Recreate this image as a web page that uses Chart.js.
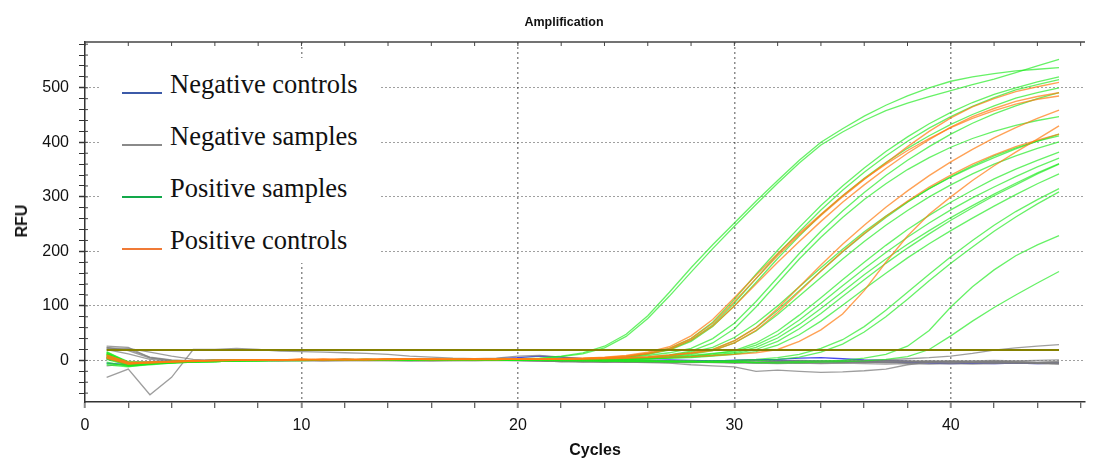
<!DOCTYPE html>
<html>
<head>
<meta charset="utf-8">
<script src="https://cdn.jsdelivr.net/npm/chart.js@4"></script>
<style>
html, body { margin: 0; padding: 0; background: #fff; }
#wrap { position: relative; width: 1097px; height: 459px; }
canvas { display: block; }
.txt { position: absolute; font-family: "Liberation Sans", Arial, sans-serif; font-weight: bold; color: #111; white-space: nowrap; }
#legend { position: absolute; left: 100px; top: 58px; width: 281px; height: 205px; background: #fff; }
.leg { position: absolute; left: 22px; font-family: "Liberation Serif", "Times New Roman", serif; font-size: 26.5px; line-height: 26px; color: #111; white-space: nowrap; }
.sw { display: inline-block; width: 40px; height: 2px; margin-right: 8px; vertical-align: baseline; position: relative; top: 1px; }
</style>
</head>
<body>
<div id="wrap">
  <canvas id="amp" width="1097" height="459"></canvas>
  <div class="txt" style="font-size:12.5px;line-height:14px;left:564px;top:15px;transform:translateX(-50%);">Amplification</div>
  <div class="txt" style="font-size:16px;line-height:16px;left:595px;top:442px;transform:translateX(-50%);">Cycles</div>
  <div class="txt" style="font-size:16px;line-height:16px;left:22px;top:221px;transform:translate(-50%,-50%) rotate(-90deg);">RFU</div>
  <div id="legend"></div>
</div>
<script>
//? DATA
const cycles = [1,2,3,4,5,6,7,8,9,10,11,12,13,14,15,16,17,18,19,20,21,22,23,24,25,26,27,28,29,30,31,32,33,34,35,36,37,38,39,40,41,42,43,44,45];

// axis ticks (labels shown on the majors only)
const yTickValues = [-60,-40,-20,0,20,40,60,80,100,120,140,160,180,200,220,240,260,280,300,320,340,360,380,400,420,440,460,480,500,520,540,560,580];
const yLabelValues = [0,100,200,300,400,500];
const xTickValues = [0,2,4,6,8,10,12,14,16,18,20,22,24,26,28,30,32,34,36,38,40,42,44,46];
const xLabelValues = [0,10,20,30,40];

const thresholdValue = 19;
const thresholdCycles = [1, 45];

// positive controls (orange)
const posControls = [
    [6,-5,-4,-2,-1,0,1,0,1,2,1,2,1,2,3,2,2,3,2,3,2,3,4,5,8,13,22,40,68,108,150,192,230,266,300,332,362,392,420,445,465,480,493,502,510],
    [9,-3,-5,-3,-1,-1,0,1,0,1,2,1,1,3,2,1,2,2,3,2,2,2,3,5,7,12,20,37,63,100,140,180,218,255,290,322,352,380,405,428,447,462,475,484,491],
    [4,-7,-4,-2,-2,0,0,1,1,1,2,2,1,2,3,2,1,2,2,3,2,3,4,6,9,15,25,45,75,115,156,196,233,268,302,333,360,385,407,427,444,458,470,479,485],
    [10,-4,-3,-2,0,0,1,1,0,2,1,2,2,1,2,3,2,2,1,3,2,3,3,4,5,7,10,14,20,36,60,95,135,175,213,248,281,311,339,364,387,408,427,444,459],
    [7,-6,-4,-3,-1,0,0,1,1,1,2,1,2,2,3,2,2,3,2,2,2,2,3,4,5,6,9,13,18,32,55,88,126,164,200,233,264,292,318,340,360,377,392,404,415],
    [5,-5,-3,-2,-1,0,0,1,1,2,1,1,2,2,2,3,2,1,2,2,2,2,3,3,4,5,6,7,9,11,14,20,35,56,85,128,180,228,268,300,330,357,382,406,430]
];

// positive samples (green)
const posSamples = [
    [14,-6,-5,-3,-2,-1,0,-1,0,1,0,1,2,1,0,1,2,1,2,3,4,8,14,26,48,82,125,170,212,252,292,330,367,400,425,448,468,485,500,512,520,526,531,534,537],
    [10,-8,-6,-4,-2,-2,-1,0,-1,0,1,0,1,2,1,1,0,2,1,2,3,7,12,23,44,77,118,162,205,246,286,325,362,395,419,440,458,472,484,495,506,516,528,540,552],
    [6,-10,-7,-5,-3,-2,-1,0,0,-1,1,0,1,1,2,0,1,1,2,1,1,2,3,4,7,13,22,40,70,112,158,202,244,284,320,353,383,410,434,455,473,488,500,511,520],
    [16,-4,-5,-3,-1,-1,0,1,0,0,1,2,1,0,1,2,1,2,1,2,1,2,3,3,6,12,20,37,65,105,150,195,236,276,312,345,375,402,426,447,466,482,496,506,515],
    [-8,-12,-7,-4,-3,-2,-1,-1,0,1,0,1,0,2,1,1,2,1,1,2,1,1,2,3,6,11,19,35,62,100,143,187,228,267,302,334,363,389,412,433,451,467,481,491,500],
    [12,-5,-6,-3,-2,-1,0,-1,1,0,0,1,1,1,2,1,0,1,2,2,1,2,2,3,5,9,14,22,40,68,108,152,196,237,274,308,339,367,392,415,435,452,467,480,491],
    [4,-7,-5,-4,-2,-1,0,0,1,0,1,1,0,1,2,1,1,2,1,0,0,1,1,2,3,6,10,17,32,58,98,142,186,226,262,295,324,350,372,391,407,420,431,440,447],
    [9,-9,-6,-4,-2,-2,-1,0,0,1,1,0,1,0,1,2,1,1,2,1,0,1,1,2,3,5,9,15,24,42,68,100,135,170,204,236,265,291,315,336,355,372,388,402,415],
    [13,-3,-4,-2,-1,0,0,1,0,1,0,2,1,1,0,1,2,1,1,2,1,1,2,2,3,5,8,13,20,36,60,92,128,164,199,232,262,290,315,337,357,375,390,402,412],
    [-3,-11,-8,-5,-3,-2,-1,-1,0,0,1,1,0,1,1,2,1,0,1,2,1,1,1,2,3,4,7,11,18,32,54,84,118,152,186,218,248,275,300,322,342,360,375,389,401],
    [7,-6,-6,-3,-2,-1,0,0,1,1,0,1,1,2,1,0,1,1,2,1,0,1,1,2,2,3,5,8,12,18,32,54,83,115,148,180,211,240,266,290,312,333,351,367,382],
    [11,-5,-5,-3,-1,-1,0,1,0,0,1,1,2,1,1,0,1,2,1,1,1,1,2,2,3,4,6,9,13,16,28,47,74,105,137,168,198,226,252,276,298,318,337,355,371],
    [2,-9,-7,-4,-3,-2,-1,0,0,1,0,1,1,1,2,1,0,1,1,2,0,1,1,2,2,3,5,7,10,14,24,41,66,95,126,157,186,213,238,262,284,305,325,344,361],
    [15,-2,-3,-2,-1,0,0,1,1,0,1,2,1,0,1,1,2,1,2,1,1,1,1,2,3,3,4,6,9,12,20,35,58,86,117,148,178,206,232,257,280,302,322,342,360],
    [-6,-10,-6,-4,-2,-1,-1,0,1,0,1,0,1,2,1,1,1,0,2,1,0,1,1,1,2,3,4,5,8,11,16,28,47,72,101,131,160,188,214,238,261,283,304,324,342],
    [5,-8,-5,-3,-2,-1,0,0,0,1,1,1,0,1,2,1,1,2,1,1,0,0,-1,-1,-2,-2,-1,-2,-1,0,2,5,11,22,38,62,92,125,158,190,220,248,273,295,315],
    [12,-4,-4,-2,-1,0,0,0,1,1,0,1,2,1,1,1,0,1,2,1,0,-1,-1,-2,-1,-2,-3,-2,-3,-2,-1,2,6,15,30,52,80,112,146,178,208,237,263,287,309],
    [3,-7,-5,-3,-2,-1,-1,0,0,1,0,1,1,0,1,1,2,1,0,1,0,0,1,0,-1,-1,-2,-2,-2,-3,-4,-3,-2,-1,0,4,11,26,55,98,135,166,192,212,229],
    [8,-6,-4,-3,-1,-1,0,0,1,0,1,1,2,1,0,1,1,1,2,1,0,1,0,0,-1,-1,-2,-2,-3,-3,-4,-5,-4,-3,-2,-1,2,7,20,45,72,97,120,142,163]
];

// negative samples (gray)
const negSamples = [
    [-31,-16,-63,-31,20,20,22,20,17,16,15,14,13,11,8,6,4,3,4,8,9,6,3,1,0,-1,-2,-2,-3,-3,-4,-3,-3,-2,-2,-3,-2,-2,-3,-2,-3,-2,-3,-4,-3],
    [26,24,5,0,-2,-1,0,1,0,-1,0,1,0,-1,0,1,0,-1,0,-1,-1,-2,-3,-2,-3,-4,-5,-8,-10,-12,-20,-18,-20,-22,-21,-19,-16,-8,-3,-2,-3,-2,-3,-4,-4],
    [22,20,6,1,-1,0,1,0,-1,0,1,0,1,0,-1,0,1,0,1,0,1,0,-1,-1,-2,-2,-1,-2,-3,-2,-3,-2,-1,-2,-1,0,1,3,5,8,13,19,23,26,29],
    [24,18,4,-1,-2,-1,0,-1,0,1,0,-1,0,1,0,-1,0,1,0,1,0,-1,-2,-3,-2,-3,-4,-3,-4,-5,-4,-5,-4,-5,-4,-3,-4,-5,-4,-5,-4,-3,-4,-5,-6],
    [-10,-6,-3,-2,-1,0,1,0,-1,0,1,0,-1,0,1,0,-1,0,1,0,-1,-2,-2,-3,-2,-3,-3,-2,-3,-4,-3,-2,-3,-2,-1,-2,-1,-2,-1,-2,-1,0,-1,0,1],
    [20,12,2,-2,-1,0,-1,0,1,0,-1,0,0,1,0,-1,0,1,0,0,-1,-1,-2,-1,-2,-3,-2,-3,-2,-3,-4,-3,-4,-3,-2,-3,-4,-3,-2,-3,-4,-5,-4,-5,-6],
    [5,-4,-6,-3,-2,-1,0,1,0,1,0,0,1,0,1,0,0,1,0,1,0,-1,0,-1,-2,-1,-2,-1,-2,-1,0,-1,0,-1,-2,-1,0,-1,-2,-1,-2,-3,-2,-3,-2],
    [23,22,15,8,2,0,-1,0,1,0,-1,0,1,0,-1,0,0,1,0,0,-1,-2,-1,-2,-3,-2,-3,-4,-3,-4,-5,-6,-5,-6,-5,-6,-7,-6,-7,-6,-7,-6,-5,-6,-7]
];

// negative controls (blue)
const negControls = [
    [3,-4,-3,-2,-1,0,1,0,1,0,1,2,1,0,1,2,1,2,3,5,8,6,3,2,1,0,1,0,-1,0,1,2,4,5,3,1,0,-2,-4,-5,-4,-3,-5,-5,-4],
    [-5,-8,-4,-2,-1,0,0,1,0,1,0,1,1,2,1,0,1,2,1,2,3,2,1,0,-1,-2,-1,-2,-1,0,1,0,-1,-2,-3,-2,-3,-4,-5,-6,-5,-6,-5,-6,-5]
];

const legendNames = ['Negative controls', 'Negative samples', 'Positive samples', 'Positive controls'];
const legendColors = ['#3c5aa8', '#8a8a8a', '#12a84a', '#f07a36'];

//? BUILD
const legendBox = document.getElementById('legend');
legendNames.forEach((name, i) => {
    const row = document.createElement('div');
    row.className = 'leg';
    row.style.top = (13 + i * 52) + 'px';
    const sw = document.createElement('span');
    sw.className = 'sw';
    sw.style.backgroundColor = legendColors[i];
    row.appendChild(sw);
    row.appendChild(document.createTextNode(name));
    legendBox.appendChild(row);
});

const toPoints = vals => cycles.map((c, i) => ({ x: c, y: vals[i] }));
const lineSet = (vals, color, width) => ({
    data: toPoints(vals),
    borderColor: color,
    borderWidth: width,
    pointRadius: 0,
    tension: 0,
    fill: false
});

const datasets = [];
datasets.push({
    data: thresholdCycles.map(c => ({ x: c, y: thresholdValue })),
    borderColor: '#858000', borderWidth: 2, pointRadius: 0, fill: false
});
posControls.forEach(v => datasets.push(lineSet(v, 'rgba(255,125,20,0.72)', 1.4)));
posSamples.forEach(v => datasets.push(lineSet(v, 'rgba(30,235,30,0.68)', 1.3)));
negSamples.forEach(v => datasets.push(lineSet(v, 'rgba(125,125,125,0.75)', 1.3)));
negControls.forEach(v => datasets.push(lineSet(v, 'rgba(40,40,235,0.85)', 1.3)));

const tickFont = { family: "'Liberation Sans', Arial, sans-serif", size: 16 };
const xMajor = v => xLabelValues.includes(v);
const yMajor = v => yLabelValues.includes(v);

// top frame line + inward tick marks
const framePlugin = {
    id: 'frame',
    afterDraw(chart) {
        const { ctx, chartArea, scales } = chart;
        ctx.save();
        ctx.strokeStyle = '#444';
        ctx.lineWidth = 1.5;
        ctx.beginPath();
        ctx.moveTo(chartArea.left, chartArea.top);
        ctx.lineTo(chartArea.right, chartArea.top);
        ctx.stroke();
        ctx.lineWidth = 1;
        scales.x.ticks.forEach(t => {
            const px = scales.x.getPixelForValue(t.value);
            ctx.beginPath();
            ctx.moveTo(px, chartArea.top);
            ctx.lineTo(px, chartArea.top + 4);
            ctx.stroke();
        });
        scales.y.ticks.forEach(t => {
            const py = scales.y.getPixelForValue(t.value);
            ctx.beginPath();
            ctx.moveTo(chartArea.left, py);
            ctx.lineTo(chartArea.left + 3, py);
            ctx.stroke();
        });
        ctx.restore();
    }
};

new Chart(document.getElementById('amp'), {
    type: 'line',
    data: { datasets },
    options: {
        responsive: false,
        animation: false,
        layout: { padding: { top: 42, right: 12, left: 0, bottom: 0 } },
        plugins: { legend: { display: false }, tooltip: { enabled: false } },
        scales: {
            x: {
                type: 'linear', min: 0, max: 46.2,
                afterBuildTicks: s => { s.ticks = xTickValues.map(v => ({ value: v })); },
                afterFit: s => { s.height = 57; },
                ticks: {
                    autoSkip: false, maxRotation: 0,
                    padding: 8, color: '#111', font: tickFont,
                    callback: v => (xMajor(v) ? String(v) : '')
                },
                grid: {
                    color: c => (c.tick && xMajor(c.tick.value) && c.tick.value > 0) ? 'rgba(120,120,120,0.85)' : 'rgba(0,0,0,0)',
                    lineWidth: 1.5,
                    tickLength: 6,
                    tickColor: c => (c.tick && xMajor(c.tick.value)) ? '#888' : '#333',
                    tickWidth: c => (c.tick && xMajor(c.tick.value)) ? 2 : 1
                },
                border: { display: true, color: '#333', width: 1.5, dash: [2, 3] }
            },
            y: {
                min: -76.3, max: 584,
                afterBuildTicks: s => { s.ticks = yTickValues.map(v => ({ value: v })); },
                afterFit: s => { s.width = 85; },
                ticks: {
                    autoSkip: false,
                    padding: 10, color: '#111', font: tickFont,
                    callback: v => (yMajor(v) ? String(v) : '')
                },
                grid: {
                    color: c => (c.tick && yMajor(c.tick.value)) ? 'rgba(0,0,0,0.75)' : 'rgba(0,0,0,0)',
                    lineWidth: 1,
                    tickLength: 6,
                    tickColor: '#333',
                    tickWidth: c => (c.tick && yMajor(c.tick.value)) ? 1.5 : 1
                },
                border: { display: true, color: '#333', width: 1.5, dash: [1, 3] }
            }
        }
    },
    plugins: [framePlugin]
});
</script>
</body>
</html>
